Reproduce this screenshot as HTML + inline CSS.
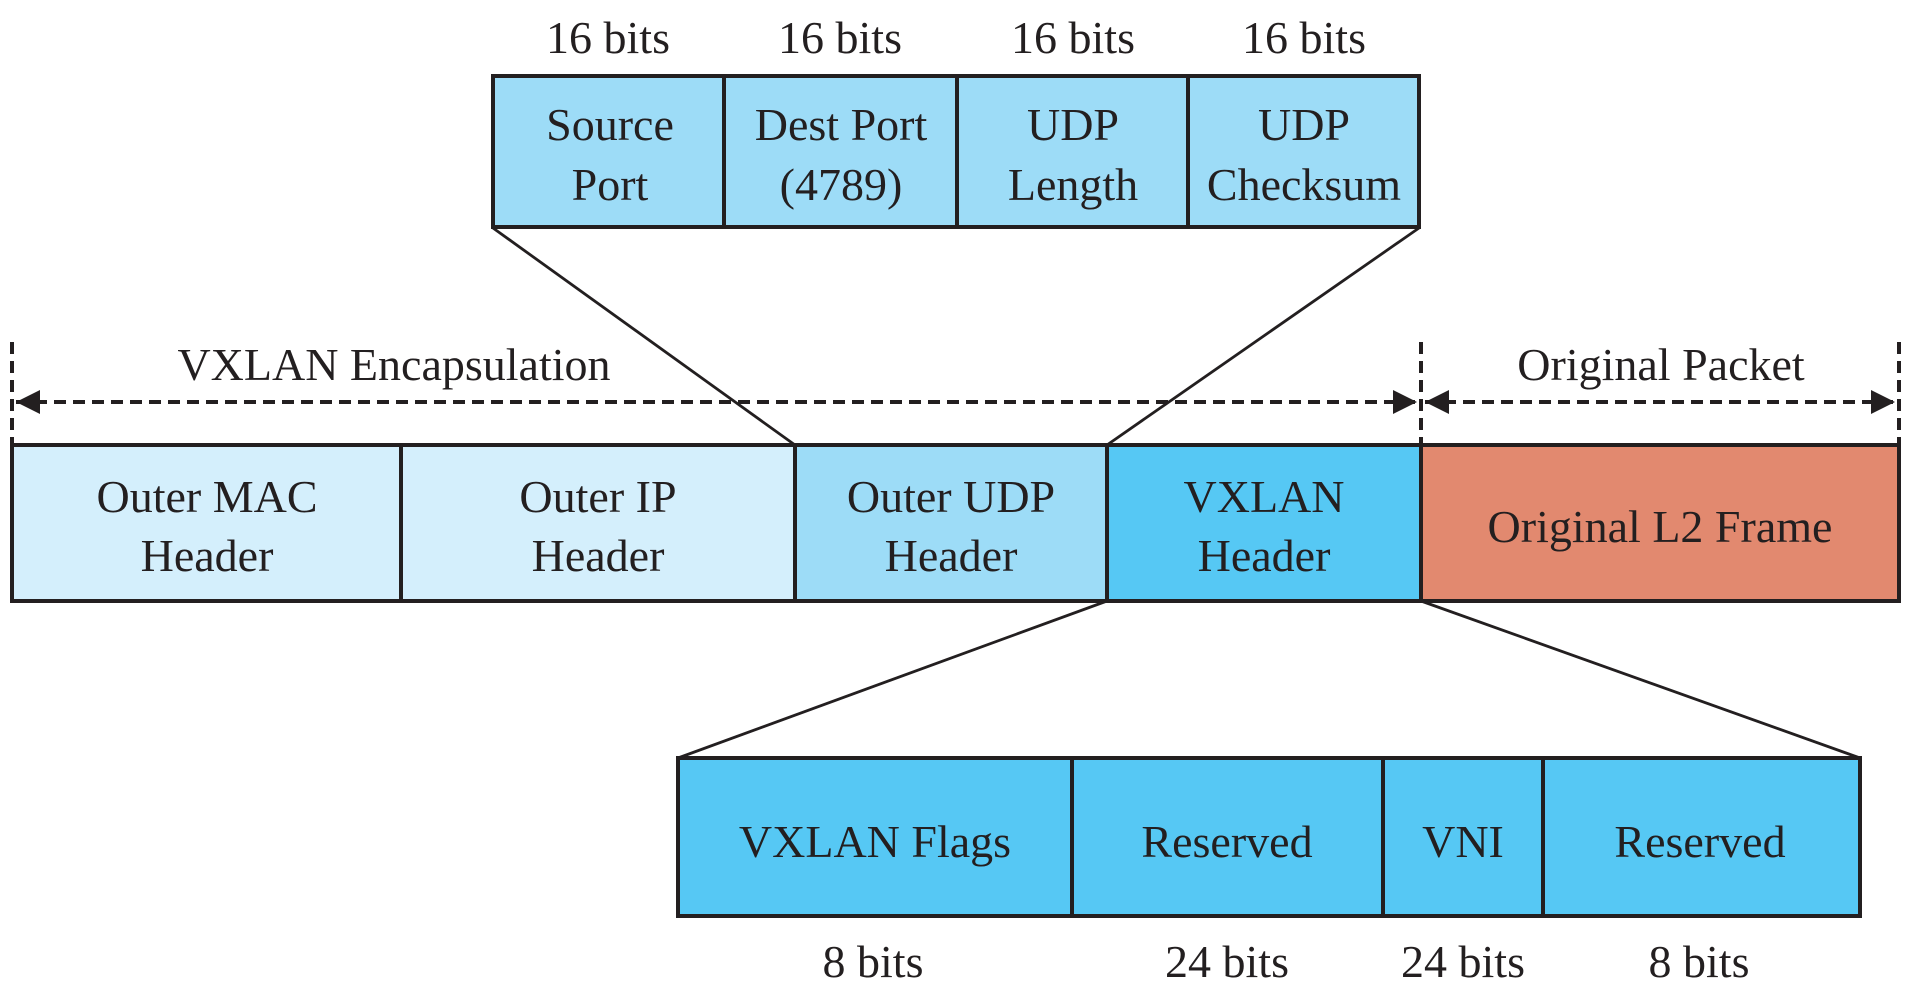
<!DOCTYPE html>
<html><head><meta charset="utf-8"><style>
html,body{margin:0;padding:0;background:#fff;}
svg{display:block;}
svg text{font-family:"Liberation Serif","Times New Roman","DejaVu Serif",serif;font-size:46px;fill:#231f20;text-anchor:middle;}
</style></head><body>
<svg width="1912" height="986" viewBox="0 0 1912 986" font-family="Liberation Serif, Times New Roman, DejaVu Serif, serif">
<defs>
<marker id="ah" viewBox="0 0 10 10" refX="10" refY="5" markerWidth="6" markerHeight="7" markerUnits="strokeWidth" orient="auto-start-reverse">
<path d="M0,0 L10,5 L0,10 z" fill="#231f20"/></marker>
</defs>
<g stroke="#231f20" stroke-width="2.8" fill="none">
<line x1="493" y1="228" x2="795" y2="445"/>
<line x1="1419" y1="228" x2="1107" y2="445"/>
<line x1="1107" y1="601" x2="678" y2="758"/>
<line x1="1421" y1="601" x2="1860" y2="758"/>
</g>
<text x="608" y="53">16 bits</text>
<text x="840" y="53">16 bits</text>
<text x="1073" y="53">16 bits</text>
<text x="1304" y="53">16 bits</text>
<g stroke="#231f20" stroke-width="4">
<rect x="493" y="76" width="926" height="151" fill="#9ddcf7"/>
<line x1="724" y1="76" x2="724" y2="227"/>
<line x1="957" y1="76" x2="957" y2="227"/>
<line x1="1188" y1="76" x2="1188" y2="227"/>
</g>
<text x="610" y="140">Source</text><text x="610" y="200">Port</text>
<text x="841" y="140">Dest Port</text><text x="841" y="200">(4789)</text>
<text x="1073" y="140">UDP</text><text x="1073" y="200">Length</text>
<text x="1304" y="140">UDP</text><text x="1304" y="200">Checksum</text>
<g stroke="#231f20" stroke-width="4" stroke-dasharray="12,7">
<line x1="12" y1="342" x2="12" y2="445"/>
<line x1="1421" y1="342" x2="1421" y2="445"/>
<line x1="1899" y1="342" x2="1899" y2="445"/>
<line x1="16" y1="402" x2="1417" y2="402" marker-start="url(#ah)" marker-end="url(#ah)"/>
<line x1="1425" y1="402" x2="1895" y2="402" marker-start="url(#ah)" marker-end="url(#ah)"/>
</g>
<text x="394" y="380">VXLAN Encapsulation</text>
<text x="1661" y="380">Original Packet</text>
<g stroke="#231f20" stroke-width="4">
<rect x="12" y="445" width="389" height="156" fill="#d4effc"/>
<rect x="401" y="445" width="394" height="156" fill="#d4effc"/>
<rect x="795" y="445" width="312" height="156" fill="#9ddcf7"/>
<rect x="1107" y="445" width="314" height="156" fill="#56c8f4"/>
<rect x="1421" y="445" width="478" height="156" fill="#e2896f"/>
</g>
<text x="207" y="512">Outer MAC</text><text x="207" y="571">Header</text>
<text x="598" y="512">Outer IP</text><text x="598" y="571">Header</text>
<text x="951" y="512">Outer UDP</text><text x="951" y="571">Header</text>
<text x="1264" y="512">VXLAN</text><text x="1264" y="571">Header</text>
<text x="1660" y="542">Original L2 Frame</text>
<g stroke="#231f20" stroke-width="4">
<rect x="678" y="758" width="1182" height="158" fill="#56c8f4"/>
<line x1="1072" y1="758" x2="1072" y2="916"/>
<line x1="1383" y1="758" x2="1383" y2="916"/>
<line x1="1543" y1="758" x2="1543" y2="916"/>
</g>
<text x="875" y="857">VXLAN Flags</text>
<text x="1227" y="857">Reserved</text>
<text x="1463" y="857">VNI</text>
<text x="1700" y="857">Reserved</text>
<text x="873" y="977">8 bits</text>
<text x="1227" y="977">24 bits</text>
<text x="1463" y="977">24 bits</text>
<text x="1699" y="977">8 bits</text>
</svg>
</body></html>
